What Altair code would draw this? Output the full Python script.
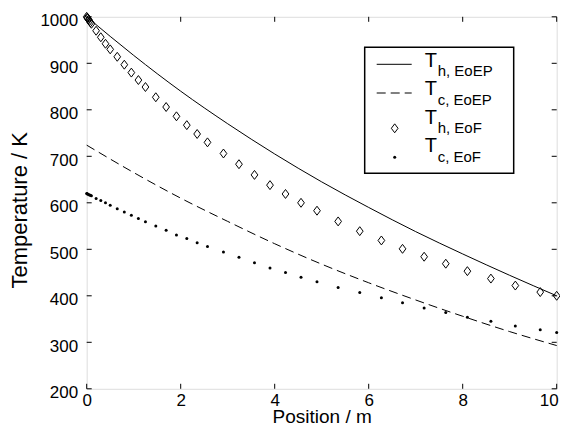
import altair as alt
import pandas as pd

# ---- data ----
pos_eof = [0, 0.01, 0.02, 0.04, 0.06, 0.08, 0.1, 0.2, 0.3, 0.4, 0.5, 0.65, 0.8, 0.95,
           1.1, 1.25, 1.47, 1.69, 1.91, 2.13, 2.35, 2.57, 2.91, 3.24, 3.57, 3.90, 4.23,
           4.56, 4.90, 5.35, 5.81, 6.27, 6.72, 7.18, 7.64, 8.10, 8.60, 9.12, 9.65, 10]
th_eof = [1000, 998, 997, 994, 991, 988, 985, 970, 956, 942, 930, 914, 897, 880,
          864, 849, 827, 806, 786, 767, 748, 730, 706, 683, 660, 638, 619,
          600, 583, 560, 539, 519, 501, 484, 469, 453, 437, 422, 408, 400]
tc_eof = [620, 619.5, 619, 618, 617, 616, 615, 609, 605, 600, 595, 587, 580, 573,
          566, 559, 550, 541, 531, 523, 514, 506, 494, 483, 471, 460, 450,
          440, 430, 418, 407, 396, 385, 374, 364, 354, 345, 335, 327, 321]

pos_line = [0, 1, 2, 3, 4, 5, 6, 7, 8, 9, 10]
th_eoep = [1000, 917, 840, 770, 705, 645, 590, 538, 490, 444, 400]
tc_eoep = [724, 665, 610, 560, 512, 468, 428, 391, 356, 323, 293]

x_ticks = [0, 2, 4, 6, 8, 10]
y_ticks = [200, 300, 400, 500, 600, 700, 800, 900, 1000]
legend_sub = ["h, EoEP", "c, EoEP", "h, EoF", "c, EoF"]

# ---- styling ----
W, H = 470, 372
FONT = "Liberation Sans"
DIAMOND = "M0,-1L0.75,0L0,1L-0.75,0Z"

xs = alt.Scale(domain=[0, 10], nice=False, zero=False)
ys = alt.Scale(domain=[200, 1000], nice=False, zero=False)

xaxis = alt.Axis(title="Position / m", values=x_ticks, format="d", grid=False, ticks=False,
                 tickSize=0, domain=False, labelFontSize=17, labelFont=FONT,
                 labelColor="black", labelPadding=4, labelFlush=False, labelOverlap=False,
                 labelOffset={"expr": "datum.value == 10 ? -8 : 0"},
                 titleFont=FONT, titleFontSize=19, titleFontWeight="normal",
                 titleColor="black", titleY=27.7, titleBaseline="middle")
yaxis = alt.Axis(title="Temperature / K", values=y_ticks, format="d", grid=False, ticks=False,
                 tickSize=0, domain=False, labelFontSize=17, labelFont=FONT,
                 labelColor="black", labelPadding=9, labelOffset=4, labelFlush=False,
                 labelOverlap=False, titleFont=FONT, titleFontSize=22,
                 titleFontWeight="normal", titleColor="black", titleX=-67, titleY=193,
                 titleBaseline="middle")

df_line = pd.DataFrame({"x": pos_line, "th": th_eoep, "tc": tc_eoep})
df_eof = pd.DataFrame({"x": pos_eof, "th": th_eof, "tc": tc_eof})
df_xt = pd.DataFrame({"x": x_ticks})
df_yt = pd.DataFrame({"th": y_ticks})
one = pd.DataFrame({"a": [0]})

X = alt.X("x:Q", scale=xs, axis=xaxis)
Y = alt.Y("th:Q", scale=ys, axis=yaxis)

solid = alt.Chart(df_line).mark_line(color="black", strokeWidth=1, interpolate="monotone").encode(
    x=X, y=Y)
dashed = alt.Chart(df_line).mark_line(color="black", strokeWidth=1, strokeDash=[9, 5],
                                      interpolate="monotone").encode(
    x=X, y=alt.Y("tc:Q", scale=ys, axis=yaxis))
diamonds = alt.Chart(df_eof).mark_point(shape=DIAMOND, size=80, filled=False, color="black",
                                        strokeWidth=1, opacity=1).encode(x=X, y=Y)
dots = alt.Chart(df_eof).mark_circle(size=9, color="black", opacity=1).encode(
    x=X, y=alt.Y("tc:Q", scale=ys, axis=yaxis))

# inward ticks on all four sides
tb = alt.Chart(df_xt).mark_rule(color="black", strokeWidth=1).encode(
    x=X, y=alt.value(H), y2=alt.value(H - 5))
tt = alt.Chart(df_xt).mark_rule(color="black", strokeWidth=1).encode(
    x=X, y=alt.value(0), y2=alt.value(5))
tl = alt.Chart(df_yt).mark_rule(color="black", strokeWidth=1).encode(
    y=Y, x=alt.value(0), x2=alt.value(5))
tr = alt.Chart(df_yt).mark_rule(color="black", strokeWidth=1).encode(
    y=Y, x=alt.value(W), x2=alt.value(W - 5))

# legend
lx0, lx1, ly0, ly1 = 278, 427, 30.5, 156.5
box = alt.Chart(one).mark_rect(fill="white", stroke="black", strokeWidth=1.5).encode(
    x=alt.value(lx0), x2=alt.value(lx1), y=alt.value(ly0), y2=alt.value(ly1))
row_y = [47.5, 76.2, 111.5, 140.5]
leg_solid = alt.Chart(one).mark_rule(color="black", strokeWidth=1).encode(
    x=alt.value(290), x2=alt.value(325), y=alt.value(row_y[0]))
leg_dash = alt.Chart(one).mark_rule(color="black", strokeWidth=1, strokeDash=[9, 5]).encode(
    x=alt.value(290), x2=alt.value(325), y=alt.value(row_y[1]))
leg_dia = alt.Chart(one).mark_point(shape=DIAMOND, size=80, filled=False, color="black",
                                    strokeWidth=1, opacity=1).encode(
    x=alt.value(308), y=alt.value(row_y[2]))
leg_dot = alt.Chart(one).mark_circle(size=9, color="black", opacity=1).encode(
    x=alt.value(308), y=alt.value(row_y[3]))

texts = []
t_base = [50, 78.5, 107, 135.5]
for i, sub in enumerate(legend_sub):
    texts.append(alt.Chart(one).mark_text(text="T", font=FONT, fontSize=20, align="left",
                                          baseline="alphabetic", color="black").encode(
        x=alt.value(338), y=alt.value(t_base[i])))
    texts.append(alt.Chart(one).mark_text(text=sub, font=FONT, fontSize=15, align="left",
                                          baseline="alphabetic", color="black").encode(
        x=alt.value(351), y=alt.value(t_base[i] + 9.5)))

chart = alt.layer(solid, dashed, diamonds, dots, tb, tt, tl, tr,
                  box, leg_solid, leg_dash, leg_dia, leg_dot, *texts).properties(
    width=W, height=H,
    padding={"left": 78.7, "top": 8.8, "right": 3, "bottom": 37.2},
    autosize=alt.AutoSizeParams(type="none"),
).configure_view(stroke="black", strokeWidth=1.5).configure(background="white")

chart.save("out.html", embed_options={"renderer": "svg", "actions": False})
